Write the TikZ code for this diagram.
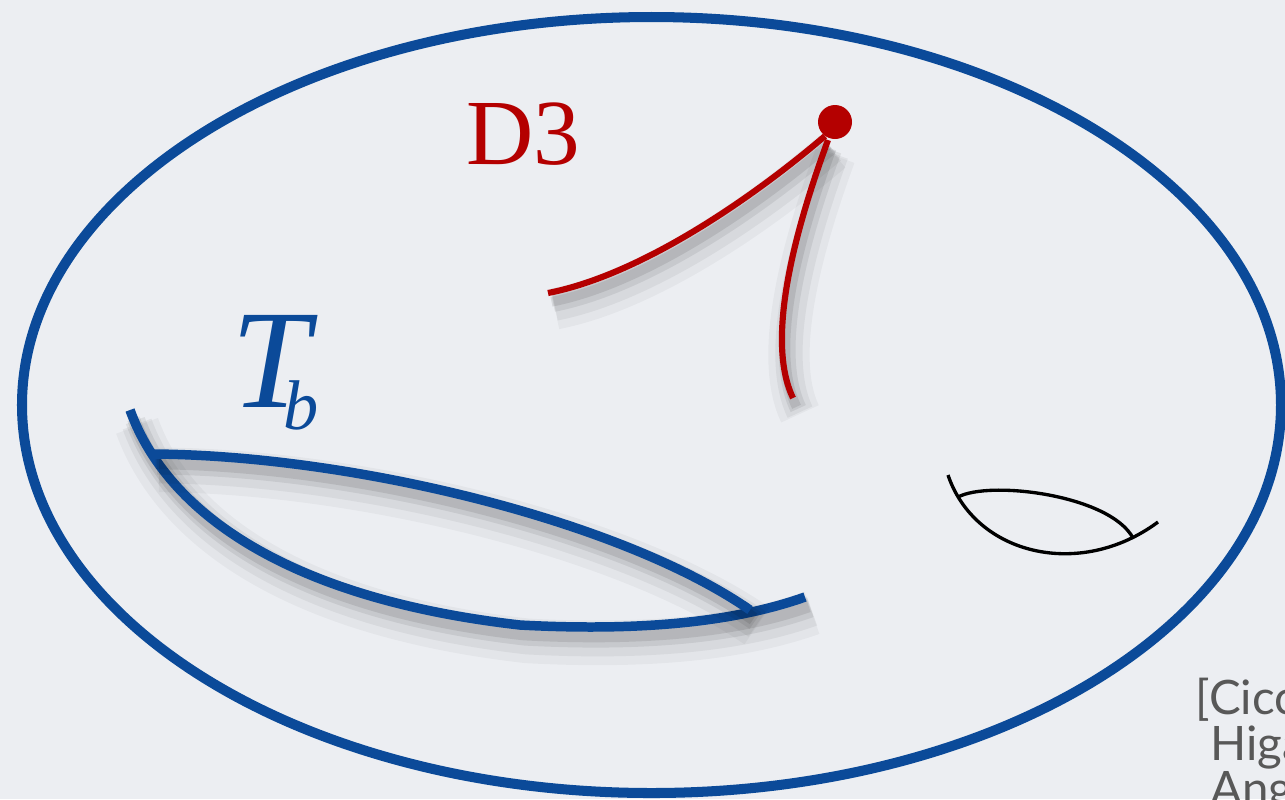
\documentclass[tikz,border=0pt]{standalone}
\usepackage{xcolor}
\usepackage{fontspec}
\setmainfont{Liberation Serif}
\newfontfamily\citefont{Lato}
\usepackage{tikz}
\usetikzlibrary{positioning}
\definecolor{bgpaper}{RGB}{236,238,242}
\definecolor{bulkblue}{RGB}{11,74,153}
\definecolor{dthreered}{RGB}{180,0,0}
\definecolor{citegray}{RGB}{88,88,88}
\tikzset{
  softshadow/.style={
    preaction={draw=black, opacity=0.035, line width=#1+10pt, transform canvas={shift={(2pt,-4.5pt)}}},
    preaction={draw=black, opacity=0.05, line width=#1+6pt, transform canvas={shift={(2pt,-4pt)}}},
    preaction={draw=black, opacity=0.07, line width=#1+3pt, transform canvas={shift={(1.5pt,-3pt)}}},
    preaction={draw=black, opacity=0.09, line width=#1+1pt, transform canvas={shift={(1pt,-2.5pt)}}},
    line width=#1},
  bulk/.style={draw=bulkblue, line width=2.85pt},
  tbrane/.style={draw=bulkblue, softshadow=2.7pt},
  dbrane/.style={draw=dthreered, softshadow=1.75pt},
  cycle/.style={draw=black, line width=0.95pt}
}
\begin{document}
\begin{tikzpicture}[x=0.01cm, y=-0.01cm]
\useasboundingbox (0,0) rectangle (1285,799);
\clip (0,0) rectangle (1285,799);
\fill[bgpaper] (0,0) rectangle (1285,799);

% bulk
\draw[bulk] (651.5,405) ellipse [x radius=629.5, y radius=388];

% D3 and its strings
\node[text=dthreered, font=\fontsize{26.5}{30}\selectfont, inner sep=0] (dlabel) at (523,134) {D3};
\coordinate (dtip) at (835,122);
\coordinate (sone) at (548,293);
\coordinate (stwo) at (793,398);
\draw[dbrane] (sone) .. controls (640,275) and (750,200) .. (825,136);
\draw[dbrane] (828,140) .. controls (795,230) and (765,340) .. (stwo);
\fill[dthreered] (dtip) circle [radius=17];

% T_b cycle
\node[text=bulkblue, anchor=base west, inner sep=0] (tlabel) at (231,407)
  {\fontsize{40}{40}\selectfont\itshape T\kern-7.5pt\raisebox{-6.5pt}{\fontsize{20}{20}\selectfont b}};
\draw[tbrane] (130,410) .. controls (170,520) and (300,600) .. (520,625)
  .. controls (650,632) and (740,620) .. (805,597);
\draw[tbrane] (152,454) .. controls (350,455) and (620,520) .. (750,610);

% small cycle
\draw[cycle] (948,475) .. controls (975,555) and (1080,580) .. (1158,522);
\draw[cycle] (958,497) .. controls (990,480) and (1110,495) .. (1133,538);

% reference
\node[text=citegray, anchor=base west, align=left, inner sep=0,
  font=\citefont\fontsize{13.5}{12.8}\selectfont] (cite) at (1195,805)
  {[Cicc\\\hphantom{[}Higa\\\hphantom{[}Ange};
\end{tikzpicture}
\end{document}
